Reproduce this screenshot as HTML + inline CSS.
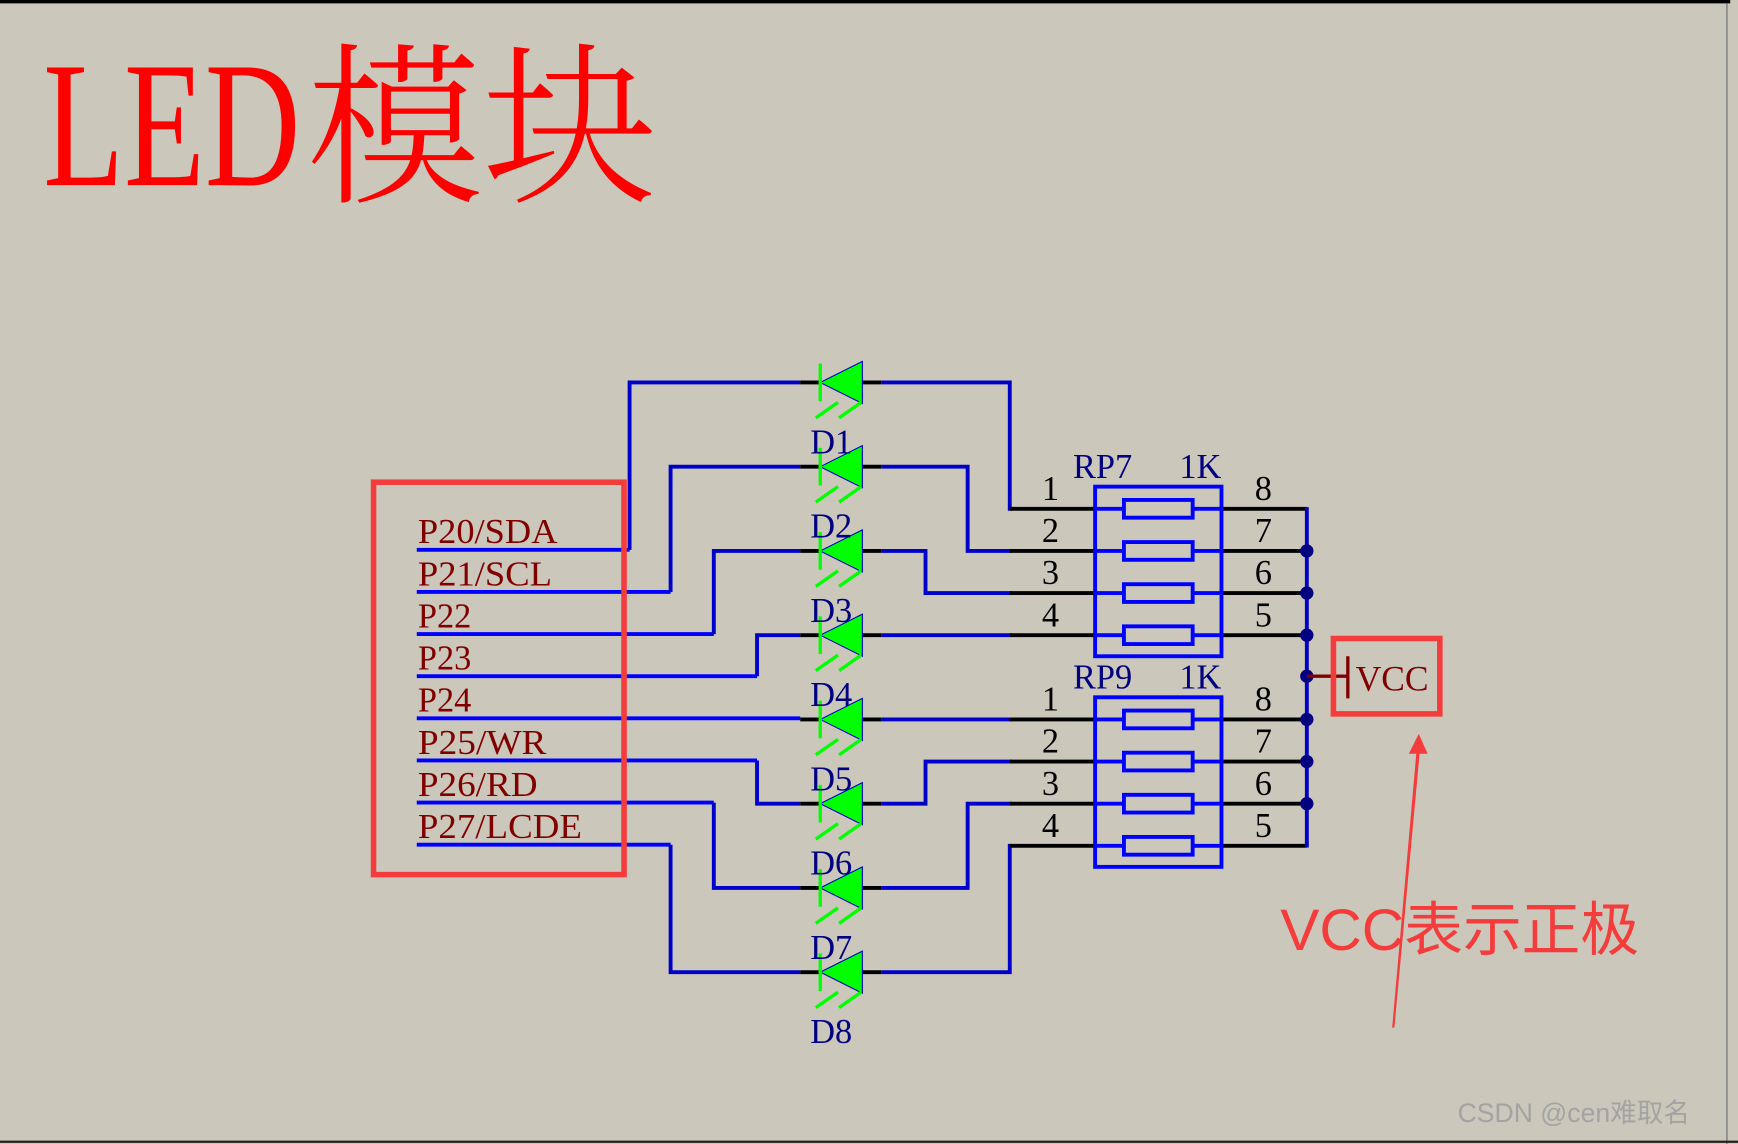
<!DOCTYPE html>
<html><head><meta charset="utf-8"><style>
html,body{margin:0;padding:0;background:#cbc7bb;}
svg{display:block;}
</style></head><body>
<svg width="1738" height="1144" viewBox="0 0 1568 1032" preserveAspectRatio="none" xmlns="http://www.w3.org/2000/svg">
<rect x="0" y="0" width="1568" height="1032" fill="#cbc7bb"/>
<line x1="0" y1="1.5" x2="1561" y2="1.5" stroke="#000" stroke-width="3"/>
<line x1="1558" y1="3" x2="1558" y2="1032" stroke="#888" stroke-width="1.5"/>
<line x1="0" y1="1030" x2="1568" y2="1030" stroke="#222" stroke-width="2"/>

<text x="39" y="167" font-family="Liberation Serif, serif" font-size="162" fill="#ff0000" textLength="232" lengthAdjust="spacingAndGlyphs">LED</text>
<text x="277" y="171" font-family="Noto Serif CJK SC, serif" font-size="158" font-weight="300" fill="#ff0000" textLength="316" lengthAdjust="spacingAndGlyphs">模块</text>

<g font-family="Liberation Serif, serif" font-size="31" fill="#800000">
<text x="377" y="490" textLength="126" lengthAdjust="spacingAndGlyphs">P20/SDA</text>
<text x="377" y="528" textLength="121" lengthAdjust="spacingAndGlyphs">P21/SCL</text>
<text x="377" y="566">P22</text>
<text x="377" y="604">P23</text>
<text x="377" y="642">P24</text>
<text x="377" y="680" textLength="116" lengthAdjust="spacingAndGlyphs">P25/WR</text>
<text x="377" y="718" textLength="108" lengthAdjust="spacingAndGlyphs">P26/RD</text>
<text x="377" y="756" textLength="148" lengthAdjust="spacingAndGlyphs">P27/LCDE</text>
</g>
<g stroke="#0000ff" stroke-width="3.5" fill="none">
<line x1="376" y1="496" x2="568" y2="496"/>
<line x1="376" y1="534" x2="605" y2="534"/>
<line x1="376" y1="572" x2="644" y2="572"/>
<line x1="376" y1="610" x2="683" y2="610"/>
<line x1="376" y1="648" x2="722" y2="648"/>
<line x1="376" y1="686" x2="683" y2="686"/>
<line x1="376" y1="724" x2="644" y2="724"/>
<line x1="376" y1="762" x2="605" y2="762"/>
</g>
<g stroke="#0000c8" stroke-width="3.5" fill="none">
<polyline points="568,496 568,345 722,345"/>
<polyline points="605,534 605,421 722,421"/>
<polyline points="644,572 644,497 722,497"/>
<polyline points="683,610 683,573 722,573"/>
<polyline points="683,686 683,725 722,725"/>
<polyline points="644,724 644,801 722,801"/>
<polyline points="605,762 605,877 722,877"/>
<polyline points="795,345 911,345 911,459 913,459"/>
<polyline points="795,421 873,421 873,497 913,497"/>
<polyline points="795,497 835,497 835,535 913,535"/>
<polyline points="795,573 913,573"/>
<polyline points="795,649 913,649"/>
<polyline points="795,725 835,725 835,687 913,687"/>
<polyline points="795,801 873,801 873,725 913,725"/>
<polyline points="795,877 911,877 911,763 913,763"/>
</g>

<defs>
<g id="d">
<line x1="-18" y1="0" x2="0" y2="0" stroke="#000" stroke-width="3.5"/>
<line x1="38" y1="0" x2="55" y2="0" stroke="#000" stroke-width="3.5"/>
<polygon points="0,0 38,-19 38,19" fill="#00ff00" stroke="#0000c8" stroke-width="1"/>
<line x1="0" y1="-17" x2="0" y2="17" stroke="#00ff00" stroke-width="3"/>
<line x1="-4" y1="32" x2="16" y2="18" stroke="#00ff00" stroke-width="3"/>
<line x1="17" y1="32" x2="37" y2="18" stroke="#00ff00" stroke-width="3"/>
</g>
</defs>
<use href="#d" x="740" y="345"/>
<use href="#d" x="740" y="421"/>
<use href="#d" x="740" y="497"/>
<use href="#d" x="740" y="573"/>
<use href="#d" x="740" y="649"/>
<use href="#d" x="740" y="725"/>
<use href="#d" x="740" y="801"/>
<use href="#d" x="740" y="877"/>
<g font-family="Liberation Serif, serif" font-size="31" fill="#000080">
<text x="731" y="409">D1</text>
<text x="731" y="485">D2</text>
<text x="731" y="561">D3</text>
<text x="731" y="637">D4</text>
<text x="731" y="713">D5</text>
<text x="731" y="789">D6</text>
<text x="731" y="865">D7</text>
<text x="731" y="941">D8</text>
</g>

<rect x="337" y="435" width="226" height="354" fill="none" stroke="#f43c3c" stroke-width="5"/>

<g stroke="#000" stroke-width="3.5">
<line x1="911" y1="459" x2="988" y2="459"/><line x1="911" y1="497" x2="988" y2="497"/>
<line x1="911" y1="535" x2="988" y2="535"/><line x1="911" y1="573" x2="988" y2="573"/>
<line x1="911" y1="649" x2="988" y2="649"/><line x1="911" y1="687" x2="988" y2="687"/>
<line x1="911" y1="725" x2="988" y2="725"/><line x1="911" y1="763" x2="988" y2="763"/>
<line x1="1102" y1="459" x2="1179" y2="459"/><line x1="1102" y1="497" x2="1179" y2="497"/>
<line x1="1102" y1="535" x2="1179" y2="535"/><line x1="1102" y1="573" x2="1179" y2="573"/>
<line x1="1102" y1="649" x2="1179" y2="649"/><line x1="1102" y1="687" x2="1179" y2="687"/>
<line x1="1102" y1="725" x2="1179" y2="725"/><line x1="1102" y1="763" x2="1179" y2="763"/>
</g>
<g stroke="#0000ff" stroke-width="3.5" fill="none">
<rect x="988" y="439" width="114" height="153"/>
<rect x="988" y="629" width="114" height="153"/>
<line x1="988" y1="459" x2="1014" y2="459"/><line x1="1076" y1="459" x2="1102" y2="459"/><rect x="1014" y="451" width="62" height="16"/>
<line x1="988" y1="497" x2="1014" y2="497"/><line x1="1076" y1="497" x2="1102" y2="497"/><rect x="1014" y="489" width="62" height="16"/>
<line x1="988" y1="535" x2="1014" y2="535"/><line x1="1076" y1="535" x2="1102" y2="535"/><rect x="1014" y="527" width="62" height="16"/>
<line x1="988" y1="573" x2="1014" y2="573"/><line x1="1076" y1="573" x2="1102" y2="573"/><rect x="1014" y="565" width="62" height="16"/>
<line x1="988" y1="649" x2="1014" y2="649"/><line x1="1076" y1="649" x2="1102" y2="649"/><rect x="1014" y="641" width="62" height="16"/>
<line x1="988" y1="687" x2="1014" y2="687"/><line x1="1076" y1="687" x2="1102" y2="687"/><rect x="1014" y="679" width="62" height="16"/>
<line x1="988" y1="725" x2="1014" y2="725"/><line x1="1076" y1="725" x2="1102" y2="725"/><rect x="1014" y="717" width="62" height="16"/>
<line x1="988" y1="763" x2="1014" y2="763"/><line x1="1076" y1="763" x2="1102" y2="763"/><rect x="1014" y="755" width="62" height="16"/>
</g>
<line x1="1179" y1="457.5" x2="1179" y2="764.5" stroke="#0000c8" stroke-width="3.5"/>
<g fill="#000080">
<circle cx="1179" cy="497" r="6"/><circle cx="1179" cy="535" r="6"/><circle cx="1179" cy="573" r="6"/>
<circle cx="1179" cy="610" r="6"/><circle cx="1179" cy="649" r="6"/><circle cx="1179" cy="687" r="6"/>
<circle cx="1179" cy="725" r="6"/>
</g>
<g font-family="Liberation Serif, serif" font-size="31" fill="#000">
<text x="940" y="451">1</text><text x="940" y="489">2</text><text x="940" y="527">3</text><text x="940" y="565">4</text>
<text x="1132" y="451">8</text><text x="1132" y="489">7</text><text x="1132" y="527">6</text><text x="1132" y="565">5</text>
<text x="940" y="641">1</text><text x="940" y="679">2</text><text x="940" y="717">3</text><text x="940" y="755">4</text>
<text x="1132" y="641">8</text><text x="1132" y="679">7</text><text x="1132" y="717">6</text><text x="1132" y="755">5</text>
</g>
<g font-family="Liberation Serif, serif" font-size="31" fill="#000080">
<text x="968" y="431">RP7</text><text x="1064" y="431">1K</text>
<text x="968" y="621">RP9</text><text x="1064" y="621">1K</text>
</g>

<line x1="1179" y1="610" x2="1216" y2="610" stroke="#800000" stroke-width="3"/>
<line x1="1216" y1="592" x2="1216" y2="630" stroke="#800000" stroke-width="3"/>
<text x="1223" y="623" font-family="Liberation Serif, serif" font-size="32" fill="#800000">VCC</text>
<rect x="1203" y="576" width="96" height="68" fill="none" stroke="#f43c3c" stroke-width="5"/>

<polygon points="1256,927 1278,677 1281,677 1258,927" fill="#f43c3c"/>
<polygon points="1280,662 1271,680 1288,680" fill="#f43c3c"/>
<text x="1155" y="857" font-family="Liberation Sans, Noto Sans CJK SC, sans-serif" font-size="53" fill="#f43c3c">VCC表示正极</text>

<text x="1315" y="1012" font-family="Liberation Sans, Noto Sans CJK SC, sans-serif" font-size="24" fill="#a3a3a3">CSDN @cen难取名</text>
</svg>
</body></html>
